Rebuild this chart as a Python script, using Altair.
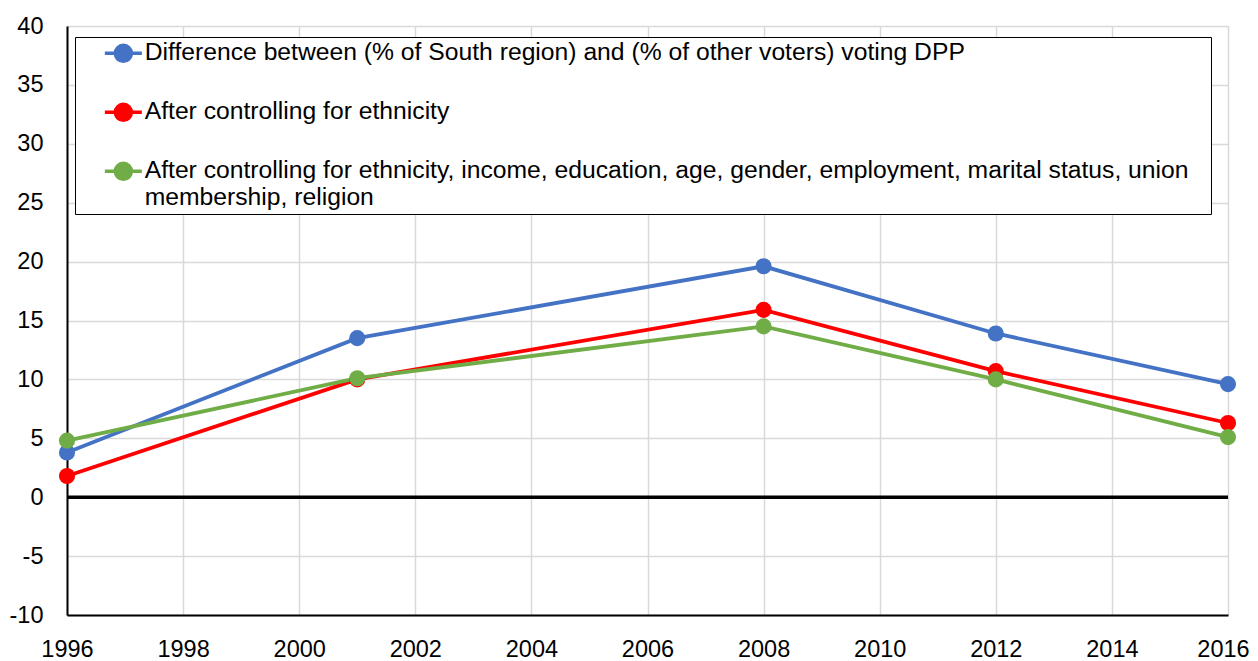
import altair as alt
import pandas as pd

years = [1996, 2001, 2008, 2012, 2016]
diff_region = [3.8, 13.5, 19.6, 13.9, 9.6]
ctrl_ethnicity = [1.8, 10.0, 15.9, 10.7, 6.3]
ctrl_all = [4.8, 10.1, 14.5, 10.0, 5.1]

series_names = [
    "Difference between (% of South region) and (% of other voters) voting DPP",
    "After controlling for ethnicity",
    "After controlling for ethnicity, income, education, age, gender, employment, marital status, union\u2800\nmembership, religion",
]
series_colors = ["#4472C4", "#FF0000", "#70AD47"]
x_ticks = list(range(1996, 2017, 2))
y_ticks = list(range(-10, 41, 5))

rows = []
for name, vals in zip(series_names, [diff_region, ctrl_ethnicity, ctrl_all]):
    for yr, v in zip(years, vals):
        rows.append({"year": yr, "value": v, "series": name})
df = pd.DataFrame(rows)

FONT = "Liberation Sans"
TICK_FS = 23.5
LEG_FS = 24.7

x = alt.X("year:Q", scale=alt.Scale(domain=[1996, 2016], nice=False, zero=False),
          axis=alt.Axis(values=x_ticks, labelExpr="toString(datum.value)", title=None,
                        labelFontSize=TICK_FS, labelColor="black", labelPadding=22,
                        labelOffset={"condition": {"test": "datum.value == 2016", "value": -5},
                                     "value": 0},
                        tickSize=0, labelFlush=False, labelOverlap=False,
                        domainColor="black", domainWidth=2, gridColor="#d9d9d9",
                        gridWidth=1.5, labelFont=FONT))
y = alt.Y("value:Q", scale=alt.Scale(domain=[-10, 40], nice=False),
          axis=alt.Axis(values=y_ticks, labelExpr="toString(datum.value)", title=None,
                        labelFontSize=TICK_FS, labelColor="black", labelPadding=24,
                        tickSize=0, labelFlush=False, labelOverlap=False,
                        domainColor="black", domainWidth=2,
                        gridColor="#d9d9d9", gridWidth=1.5, labelFont=FONT))

sym_path = ("M-1.85,0L1.85,0M-0.8,0A0.8,0.8,0,1,0,0.8,0"
            "A0.8,0.8,0,1,0,-0.8,0Z")

color = alt.Color("series:N",
                  scale=alt.Scale(domain=series_names, range=series_colors),
                  sort=series_names,
                  legend=alt.Legend(title=None, orient="none", legendX=8, legendY=11,
                                    direction="vertical",
                                    strokeColor="black", fillColor="white",
                                    padding=4, symbolType=sym_path, symbolSize=400,
                                    symbolStrokeWidth=3.5, symbolOffset=32,
                                    labelOffset=9, labelFontSize=LEG_FS, labelFont=FONT,
                                    labelColor="black", labelLimit=2000, rowPadding=28,
                                    labelExpr="split(datum.label, '\\n')"))

base = alt.Chart(df)
lines = base.mark_line(strokeWidth=3.8).encode(x=x, y=y, color=color)
points = base.mark_point(filled=True, size=260, opacity=1).encode(x=x, y=y, color=color)

zero = alt.Chart(pd.DataFrame({"z": [0]})).mark_rule(color="black", strokeWidth=3.5).encode(
    y=alt.Y("z:Q", scale=alt.Scale(domain=[-10, 40], nice=False)))

chart = alt.layer(zero, lines, points).properties(
    width=1161, height=589,
    padding={"left": 59, "top": 18, "right": 22, "bottom": 46},
    autosize=alt.AutoSizeParams(type="none"),
).configure_view(stroke="black", strokeWidth=1.5).configure(font=FONT)

chart.save("out.html", embed_options={"renderer": "svg", "actions": False})
